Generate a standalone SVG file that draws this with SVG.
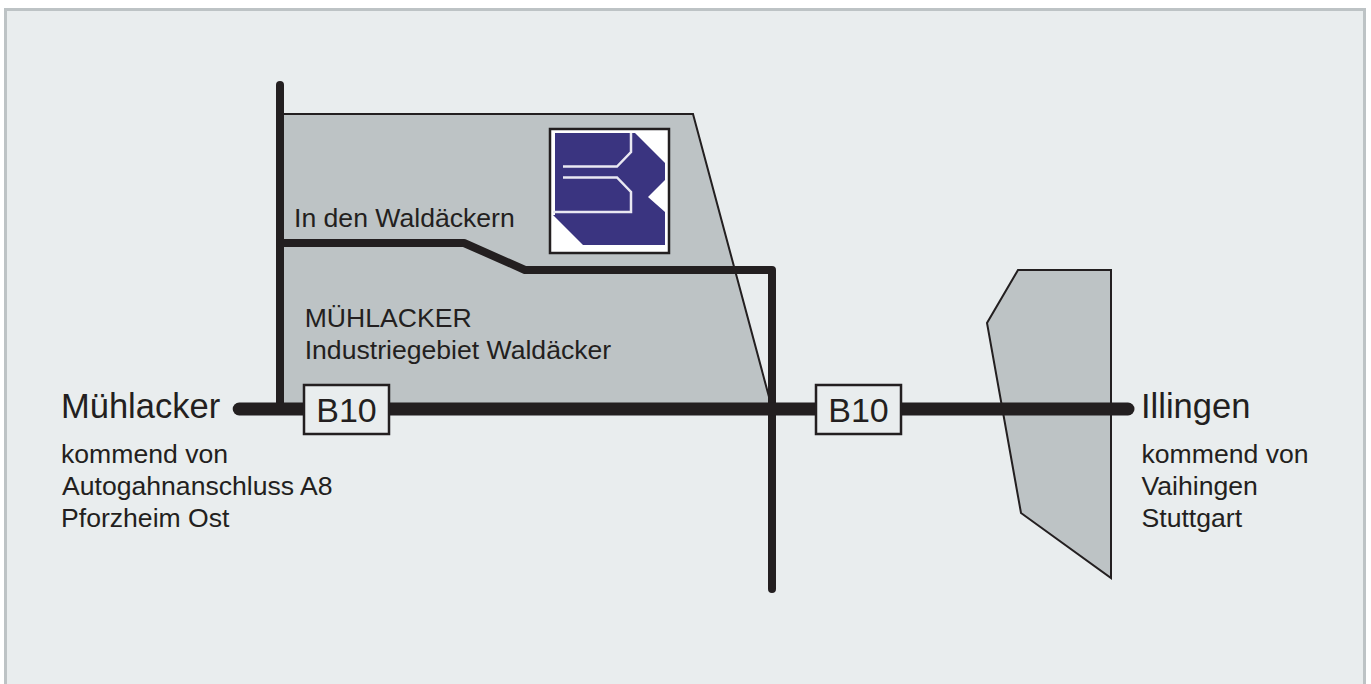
<svg xmlns="http://www.w3.org/2000/svg" width="1371" height="684" viewBox="0 0 1371 684">
<style>
text{font-family:"Liberation Sans",Arial,sans-serif;fill:#231f20}
.t{font-size:26.600px}
.b{font-size:34px}
.h{font-size:34.500px}
.area{fill:#bdc3c5;stroke:#231f20;stroke-width:2}
.road{fill:none;stroke:#231f20;stroke-width:8;stroke-linecap:round;stroke-linejoin:round}
.main{fill:none;stroke:#231f20;stroke-width:13;stroke-linecap:round}
.sign{fill:#e9edee;stroke:#231f20;stroke-width:2.500}
</style>
<rect width="1371" height="684" fill="#fff"/>
<path d="M5.500 684V9.500H1364.500V684" fill="#e9edee" stroke="#bdc3c5" stroke-width="3"/>
<g id="area-muehlacker"><path class="area" d="M280 114H693L772 408H280Z"/></g>
<g id="area-illingen"><path class="area" d="M1018 270H1111V578L1021 513L987 323Z"/></g>
<g id="connectors">
<path class="road" d="M280 85V408"/>
<path class="road" d="M280 243H464L525 270H772V589"/>
<path class="main" d="M239.200 409H1128"/>
</g>
<g id="logo">
<rect x="550" y="129" width="119" height="124" fill="#fff" stroke="#231f20" stroke-width="2.500"/>
<path d="M555 133H635L665 163V180L648 197L665 212V245H583L553 215H555Z" fill="#3a3480"/>
<path d="M631 133V152L617 166.500H563M553 212H631V192L617 177.500H563" fill="none" stroke="#e9e8f2" stroke-width="2.500"/>
</g>
<g id="sign-b10-left"><rect class="sign" x="304" y="385" width="85" height="49"/><text class="b" x="346.500" y="421.500" text-anchor="middle">B10</text></g>
<g id="sign-b10-right"><rect class="sign" x="816" y="385" width="85" height="49"/><text class="b" x="858.500" y="421.500" text-anchor="middle">B10</text></g>
<g id="labels">
<text class="t" x="294" y="227">In den Waldäckern</text>
<text class="t" x="304.700" y="326.500">MÜHLACKER</text>
<text class="t" x="304.700" y="358.500">Industriegebiet Waldäcker</text>
<text class="h" x="61" y="417.500">Mühlacker</text>
<text class="t" x="61" y="462.500">kommend von</text>
<text class="t" x="62" y="494.500">Autogahnanschluss A8</text>
<text class="t" x="61" y="526.500">Pforzheim Ost</text>
<text class="h" x="1141" y="417.500">Illingen</text>
<text class="t" x="1141.500" y="462.500">kommend von</text>
<text class="t" x="1141.500" y="494.500">Vaihingen</text>
<text class="t" x="1141.500" y="526.500">Stuttgart</text>
</g>
</svg>
